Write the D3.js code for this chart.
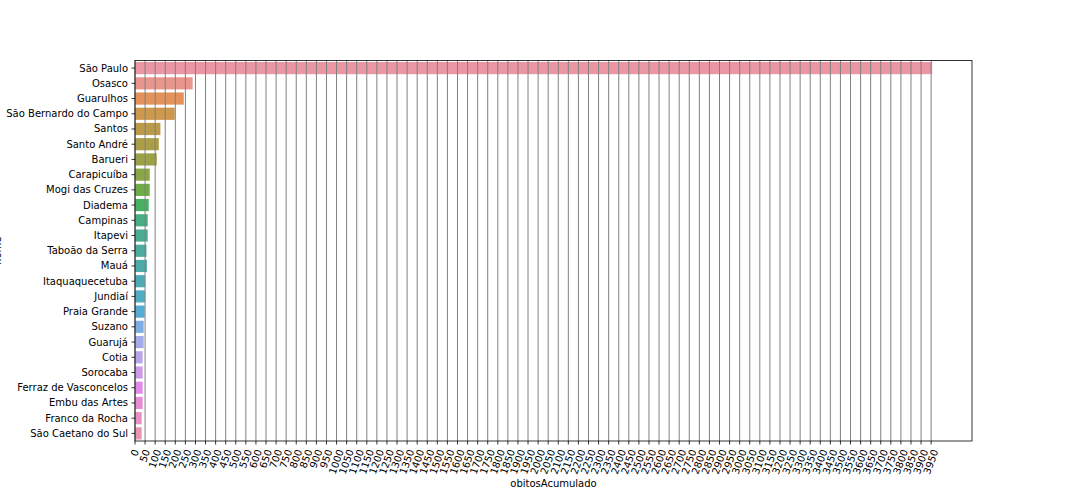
<!DOCTYPE html>
<html>
<head>
<meta charset="utf-8">
<script src="https://cdn.jsdelivr.net/npm/d3@7"></script>
<style>
  html, body { margin: 0; padding: 0; background: #fff; }
  svg { display: block; }
  text { font-family: "DejaVu Sans", sans-serif; font-size: 10px; fill: #000; }
</style>
</head>
<body>
<svg id="chart" width="1080" height="504"></svg>
<script>
// ---- data ----
const cities = ["São Paulo","Osasco","Guarulhos","São Bernardo do Campo","Santos","Santo André","Barueri",
  "Carapicuíba","Mogi das Cruzes","Diadema","Campinas","Itapevi","Taboão da Serra","Mauá",
  "Itaquaquecetuba","Jundiaí","Praia Grande","Suzano","Guarujá","Cotia","Sorocaba",
  "Ferraz de Vasconcelos","Embu das Artes","Franco da Rocha","São Caetano do Sul"];
const obitosAcumulado = [3955,286,242,197,126,118,108,73,73,68,63,63,57,59,50,50,48,43,43,38,38,38,38,33,33];
const xTickValues = d3.range(0, 3951, 50);
const xLabel = "obitosAcumulado";
const yLabel = "nome";

// ---- husl palette (seaborn) ----
const M = [[3.2406,-1.5372,-0.4986],[-0.9689,1.8758,0.0415],[0.0557,-0.2040,1.0570]];
const refU = 0.19784, refV = 0.46834, labE = 0.008856, labK = 903.3;
function maxChroma(L, H) {
  const hr = H / 360 * 2 * Math.PI, sH = Math.sin(hr), cH = Math.cos(hr);
  const sub1 = Math.pow(L + 16, 3) / 1560896;
  const sub2 = sub1 > labE ? sub1 : L / labK;
  let res = Infinity;
  for (const [m1, m2, m3] of M) {
    const top = (0.99915*m1 + 1.05122*m2 + 1.14460*m3) * sub2;
    const rb = 0.86330*m3 - 0.17266*m2, lb = 0.12949*m3 - 0.38848*m1;
    const bottom = (rb*sH + lb*cH) * sub2;
    for (const t of [0, 1]) {
      const C = L * (top - 1.05122*t) / (bottom + 0.17266*sH*t);
      if (C > 0 && C < res) res = C;
    }
  }
  return res;
}
function fInv(t) { return Math.pow(t,3) > labE ? Math.pow(t,3) : (116*t - 16) / labK; }
function fromLinear(c) { return c <= 0.0031308 ? 12.92*c : 1.055*Math.pow(c, 1/2.4) - 0.055; }
function huslToRgb(h, s, l) {
  const C = maxChroma(l, h) / 100 * s;
  const hr = h / 360 * 2 * Math.PI;
  const U = Math.cos(hr) * C, V = Math.sin(hr) * C;
  const vY = fInv((l + 16) / 116);
  const vU = U / (13*l) + refU, vV = V / (13*l) + refV;
  const Y = vY;
  const X = 0 - (9*Y*vU) / ((vU - 4)*vV - vU*vV);
  const Z = (9*Y - 15*vV*Y - vV*X) / (3*vV);
  return M.map(r => Math.min(1, Math.max(0, fromLinear(r[0]*X + r[1]*Y + r[2]*Z))));
}
function huslPalette(n, h = 0.01, s = 0.9, l = 0.7) {
  const out = [];
  for (let i = 0; i < n; i++) {
    let hue = (i / n + h) % 1;
    const rgb = huslToRgb(hue * 359, s * 99, l * 99);
    const c = d3.hsl(d3.rgb(rgb[0]*255, rgb[1]*255, rgb[2]*255));
    c.s *= 0.75; // seaborn desaturation
    out.push(c.formatHex());
  }
  return out;
}
const colors = huslPalette(cities.length);

// ---- layout ----
const svg = d3.select("#chart");
const L = 135, R = 972, T = 60.5, B = 441;
const x = d3.scaleLinear().domain([0, d3.max(obitosAcumulado) * 1.05]).range([L, R]);
const y = d3.scaleBand().domain(cities).range([T, B]).paddingInner(0.2).paddingOuter(0.1);

// bars
svg.append("g").selectAll("rect").data(cities).join("rect")
  .attr("x", x(0))
  .attr("y", d => y(d))
  .attr("width", (d, i) => x(obitosAcumulado[i]) - x(0))
  .attr("height", y.bandwidth())
  .attr("fill", (d, i) => colors[i]);

// gridlines (above bars, like matplotlib axisbelow='line')
svg.append("g").selectAll("line").data(xTickValues).join("line")
  .attr("x1", d => x(d)).attr("x2", d => x(d))
  .attr("y1", T).attr("y2", B)
  .attr("stroke", "#808080").attr("stroke-width", 1);

// spines
svg.append("rect").attr("x", L).attr("y", T).attr("width", R - L).attr("height", B - T)
  .attr("fill", "none").attr("stroke", "#000").attr("stroke-width", 0.8);

// x axis ticks
const xg = svg.append("g");
xg.selectAll("line").data(xTickValues).join("line")
  .attr("x1", d => x(d)).attr("x2", d => x(d))
  .attr("y1", B).attr("y2", B + 3.5)
  .attr("stroke", "#000").attr("stroke-width", 0.8);
const ang = 70 * Math.PI / 180;
xg.selectAll("text").data(xTickValues).join("text")
  .text(d => d)
  .attr("text-anchor", "middle")
  .attr("dy", "0.32em")
  .each(function(d) {
    const w = this.getComputedTextLength();
    const H = w * Math.sin(ang) + 11.6 * Math.cos(ang);
    const cx = x(d), cy = B + 7 + H / 2;
    d3.select(this).attr("x", cx).attr("y", cy)
      .attr("transform", `rotate(-70,${cx},${cy})`);
  });

// y axis ticks
const yg = svg.append("g");
yg.selectAll("line").data(cities).join("line")
  .attr("x1", L - 3.5).attr("x2", L)
  .attr("y1", d => y(d) + y.bandwidth() / 2).attr("y2", d => y(d) + y.bandwidth() / 2)
  .attr("stroke", "#000").attr("stroke-width", 0.8);
yg.selectAll("text").data(cities).join("text")
  .text(d => d)
  .attr("x", L - 7)
  .attr("y", d => y(d) + y.bandwidth() / 2)
  .attr("dy", "0.35em")
  .attr("text-anchor", "end");

// axis labels
svg.append("text").text(xLabel)
  .attr("x", (L + R) / 2).attr("y", 487)
  .attr("text-anchor", "middle");
svg.append("text").text(yLabel)
  .attr("text-anchor", "middle")
  .attr("transform", `translate(1,${(T + B) / 2}) rotate(-90)`);
</script>
</body>
</html>
